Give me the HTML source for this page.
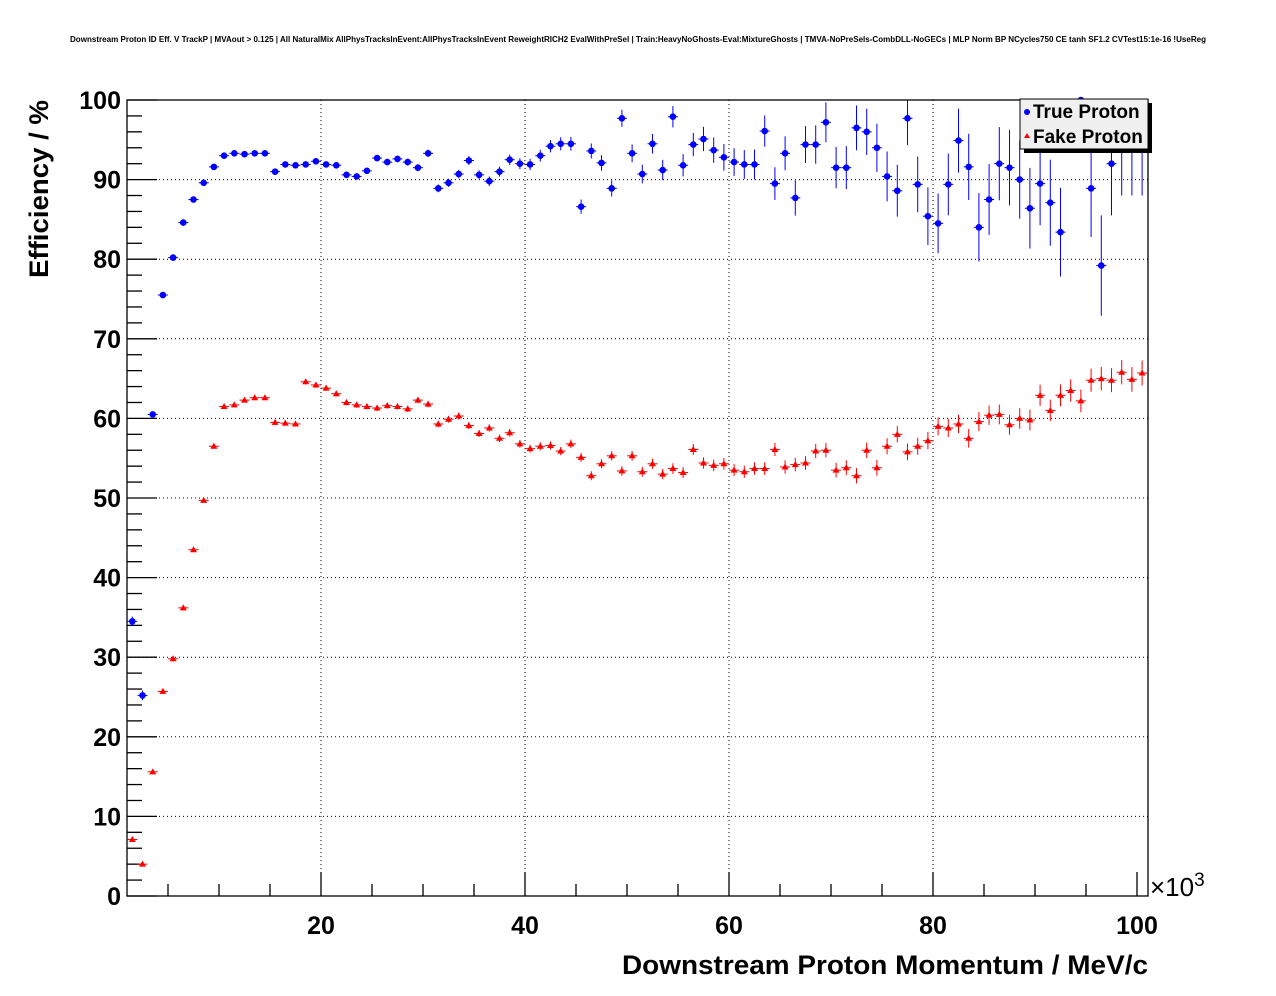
<!DOCTYPE html>
<html><head><meta charset="utf-8"><style>
html,body{margin:0;padding:0;background:#fff;}
svg{display:block;font-family:"Liberation Sans",sans-serif;}
</style></head><body>
<svg id="s" width="1276" height="996" xmlns="http://www.w3.org/2000/svg">
<text x="70" y="42" font-size="8" font-weight="bold" textLength="1136" lengthAdjust="spacingAndGlyphs">Downstream Proton ID Eff. V TrackP | MVAout &gt; 0.125 | All NaturalMix AllPhysTracksInEvent:AllPhysTracksInEvent ReweightRICH2 EvalWithPreSel | Train:HeavyNoGhosts-Eval:MixtureGhosts | TMVA-NoPreSels-CombDLL-NoGECs | MLP Norm BP NCycles750 CE tanh SF1.2 CVTest15:1e-16 !UseReg</text>
<g id="g"></g>
<text x="48" y="189" font-size="27" font-weight="bold" text-anchor="middle" transform="rotate(-90 48 189)" textLength="178" lengthAdjust="spacingAndGlyphs">Efficiency / %</text>
<text x="622" y="974" font-size="27" font-weight="bold" textLength="526" lengthAdjust="spacingAndGlyphs">Downstream Proton Momentum / MeV/c</text>
<text x="1150" y="896" font-size="26">×10<tspan font-size="19" dy="-10">3</tspan></text>
<rect x="1024" y="103" width="128" height="50" fill="#000"/>
<rect x="1020" y="99" width="128" height="50" fill="#f0f0f0" stroke="#000" stroke-width="1"/>
<circle cx="1027" cy="112" r="3" fill="#00f"/>
<polygon points="1027,133 1024,138 1030,138" fill="#f00"/>
<text x="1033" y="118" font-size="19" font-weight="bold">True Proton</text>
<text x="1033" y="143" font-size="19" font-weight="bold">Fake Proton</text>
</svg>
<script>
var g=document.getElementById('g'),h='';
var L=127,R=1148,T=100,B=896;
function X(v){return 117+10.2*v;}
function Y(v){return B-(B-T)*v/100;}
for(var v=10;v<100;v+=10)h+='<line x1="'+L+'" x2="'+R+'" y1="'+Y(v)+'" y2="'+Y(v)+'" stroke="#000" stroke-dasharray="1,3"/>';
for(var v=20;v<=80;v+=20)h+='<line x1="'+X(v)+'" x2="'+X(v)+'" y1="'+T+'" y2="'+B+'" stroke="#000" stroke-dasharray="1,3"/>';
h+='<rect x="'+L+'" y="'+T+'" width="'+(R-L)+'" height="'+(B-T)+'" fill="none" stroke="#000" stroke-width="1.3"/>';
for(var v=0;v<=100;v+=2){var len=(v%10==0)?30:15;h+='<line x1="'+L+'" x2="'+(L+len)+'" y1="'+Y(v)+'" y2="'+Y(v)+'" stroke="#000" stroke-width="1.3"/>';
 if(v%10==0)h+='<text x="'+(L-6)+'" y="'+(Y(v)+9)+'" font-size="25" font-weight="bold" text-anchor="end">'+v+'</text>';}
for(var v=5;v<=100;v+=5){var len=(v%20==0)?24:12;h+='<line x1="'+X(v)+'" x2="'+X(v)+'" y1="'+B+'" y2="'+(B-len)+'" stroke="#000" stroke-width="1.3"/>';
 if(v%20==0)h+='<text x="'+X(v)+'" y="'+(B+38)+'" font-size="25" font-weight="bold" text-anchor="middle">'+v+'</text>';}
var t=[34.5,25.2,60.5,75.5,80.2,84.6,87.5,89.6,91.6,93.0,93.3,93.2,93.3,93.3,91.0,91.9,91.8,91.9,92.3,91.9,91.8,90.6,90.4,91.1,92.7,92.2,92.6,92.2,91.5,93.3,88.9,89.6,90.7,92.4,90.6,89.8,91.0,92.5,92.0,91.9,93.0,94.2,94.5,94.5,86.6,93.6,92.1,88.9,97.7,93.3,90.7,94.5,91.2,97.9,91.8,94.4,95.1,93.7,92.8,92.2,91.9,91.9,96.1,89.5,93.3,87.7,94.4,94.4,97.2,91.5,91.5,96.5,96.0,94.0,90.4,88.6,97.7,89.4,85.4,84.5,89.4,94.9,91.6,84.0,87.5,92.0,91.5,90.0,86.4,89.5,87.1,83.4,95,100,88.9,79.2,92,91,92,92];
var f=[7.1,4.0,15.6,25.7,29.8,36.2,43.5,49.7,56.5,61.5,61.7,62.3,62.6,62.6,59.5,59.4,59.3,64.6,64.2,63.8,63.1,62.0,61.7,61.5,61.3,61.6,61.5,61.2,62.3,61.8,59.3,59.9,60.3,59.1,58.1,58.8,57.5,58.2,56.8,56.2,56.5,56.6,55.9,56.8,55.1,52.8,54.3,55.3,53.4,55.3,53.3,54.3,53.0,53.7,53.2,56.1,54.4,54.1,54.3,53.5,53.3,53.7,53.7,56.1,53.9,54.2,54.4,55.9,56.0,53.5,53.8,52.8,56.0,53.8,56.5,58.0,55.8,56.5,57.2,59.0,58.8,59.3,57.5,59.6,60.4,60.5,59.2,60.0,59.8,62.9,61.0,62.9,63.5,62.2,64.8,65.0,64.8,65.8,64.9,65.7];
for(var i=0;i<100;i++){var c=1.5+i,x=X(c);
 var e=0.3+Math.pow(i/100,3)*7;if(i<2)e=0.6;
 var y=Y(t[i]);
 if(i!=92&&i<97){h+='<line x1="'+(x-5)+'" x2="'+(x+5)+'" y1="'+y+'" y2="'+y+'" stroke="#00f"/>';
 h+='<line x1="'+x+'" x2="'+x+'" y1="'+Math.max(T,Y(t[i]+e))+'" y2="'+Y(t[i]-e)+'" stroke="#00f"/>';
 h+='<circle cx="'+x+'" cy="'+y+'" r="3.3" fill="#00f"/>';}
 var ef=0.3+Math.pow(i/100,2)*1.3;var yf=Y(f[i]);
 h+='<line x1="'+(x-5)+'" x2="'+(x+5)+'" y1="'+yf+'" y2="'+yf+'" stroke="#f00"/>';
 h+='<line x1="'+x+'" x2="'+x+'" y1="'+Y(f[i]+ef)+'" y2="'+Y(f[i]-ef)+'" stroke="#f00"/>';
 h+='<polygon points="'+x+','+(yf-3.5)+' '+(x-3.5)+','+(yf+2.5)+' '+(x+3.5)+','+(yf+2.5)+'" fill="#f00"/>';}
for(var i=96;i<100;i++){var x=X(1.5+i);h+='<line x1="'+x+'" x2="'+x+'" y1="150" y2="'+Y(88)+'" stroke="#00f"/>';}
g.innerHTML=h;
</script>
</body></html>
